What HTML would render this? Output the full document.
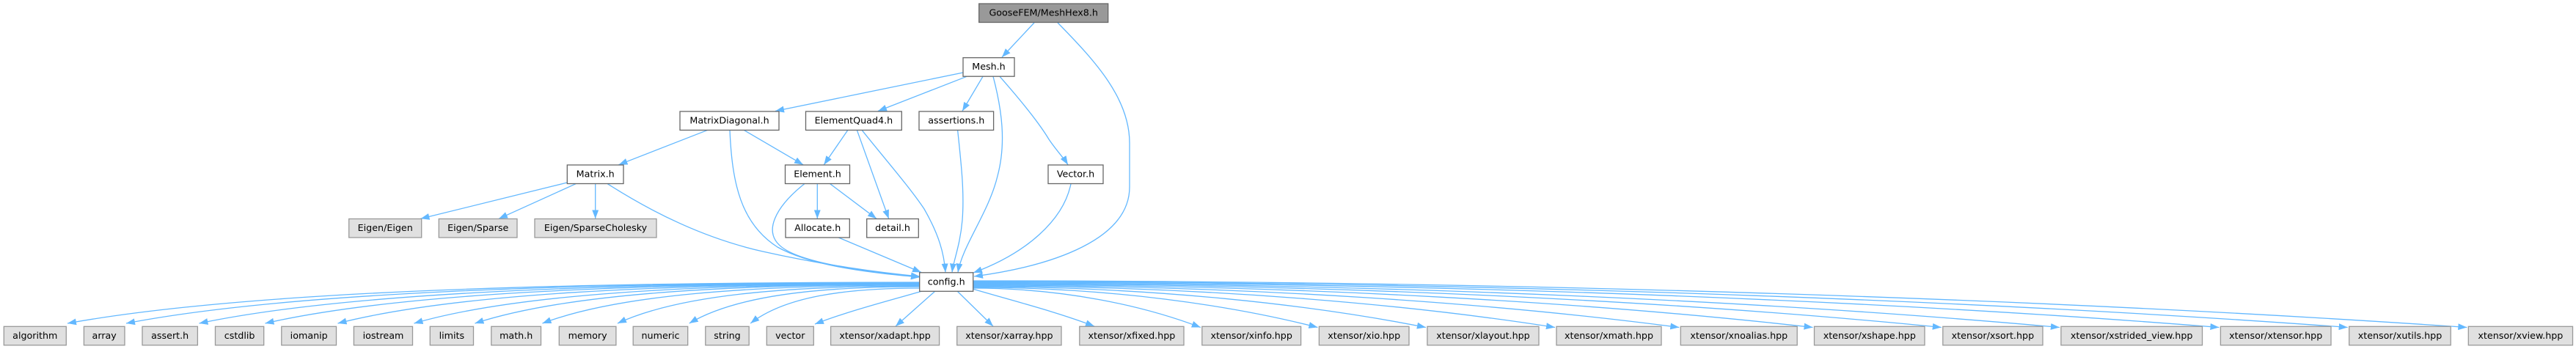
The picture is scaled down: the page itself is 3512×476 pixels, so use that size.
<!DOCTYPE html>
<html>
<head>
<meta charset="utf-8">
<style>
  html,body{margin:0;padding:0;background:#ffffff;}
  svg{display:block;}
  text{font-family:"DejaVu Sans","Liberation Sans",sans-serif;font-size:12.7px;fill:#000;text-anchor:middle;}
  .e{fill:none;stroke:#63b8ff;stroke-width:1.3;marker-end:url(#ah);}
  .n{fill:#ffffff;stroke:#666666;stroke-width:1.3;}
  .g{fill:#e0e0e0;stroke:#999999;stroke-width:1.3;}
  .r{fill:#999999;stroke:#666666;stroke-width:1.3;}
</style>
</head>
<body>
<svg width="3512" height="476" viewBox="0 0 3512 476" xmlns="http://www.w3.org/2000/svg">
<defs>
  <marker id="ah" markerUnits="userSpaceOnUse" markerWidth="12" markerHeight="10" refX="12" refY="5" orient="auto">
    <path d="M0,0.5 L12,5 L0,9.5 z" fill="#63b8ff"/>
  </marker>
</defs>
<rect x="0" y="0" width="3512" height="476" fill="#ffffff"/>

<!-- upper edges -->
<path class="e" d="M1410,31 L1366,78"/>
<path class="e" d="M1442,31 C1495,85 1540,135 1540,195 L1540,255 C1540,325 1440,362 1328,377"/>
<path class="e" d="M1313,99 L1057,151.5"/>
<path class="e" d="M1318,104.3 L1197,151.5"/>
<path class="e" d="M1340,104.3 L1312,151.5"/>
<path class="e" d="M1354,104.3 C1366,150 1372,195 1360,240 C1348,290 1312,335 1306,371.5"/>
<path class="e" d="M1363,104.3 C1390,135 1415,165 1430,190 C1440,205 1450,215 1456,224.7"/>
<path class="e" d="M965,177.3 L843.5,224.7"/>
<path class="e" d="M1014,177.3 L1095,224.7"/>
<path class="e" d="M995,177.3 C998,250 1010,305 1060,337 C1110,365 1200,373 1254,378"/>
<path class="e" d="M1156,177.3 L1123.3,224.7"/>
<path class="e" d="M1168.3,177.3 L1211.7,298.3"/>
<path class="e" d="M1175,177.3 C1205,215 1240,255 1260,285 C1280,320 1287,345 1289,371.5"/>
<path class="e" d="M1305.6,177.3 C1310,220 1315,260 1312,300 C1309,335 1300,355 1298,371.5"/>
<path class="e" d="M773.3,249 L573.5,298.3"/>
<path class="e" d="M785,250.7 L680,298.3"/>
<path class="e" d="M811.7,250.7 L811.7,298.3"/>
<path class="e" d="M828.3,250.7 C890,290 960,325 1040,343 C1120,361 1200,372 1254,377"/>
<path class="e" d="M1114.3,250.7 L1114.3,298.3"/>
<path class="e" d="M1131.7,250.7 L1195,298.3"/>
<path class="e" d="M1096.7,250.7 C1060,280 1035,318 1070,340 C1105,362 1200,372 1254,378"/>
<path class="e" d="M1460,250.7 C1450,300 1400,345 1327,372"/>
<path class="e" d="M1143.3,324 L1256,371.5"/>

<!-- config.h -> left bottom nodes -->
<path class="e" d="M1254,385 C731.1,385 324.4,399 92,441"/>
<path class="e" d="M1254,385.5 C767.1,385.5 388.4,399.4 172,441"/>
<path class="e" d="M1254,386 C811.9,386 468,399.75 271.5,441"/>
<path class="e" d="M1254,386.5 C852.4,386.5 540,400.1 361.5,441"/>
<path class="e" d="M1254,387 C896.9,387 619.2,400.5 460.5,441"/>
<path class="e" d="M1254,387.5 C943.7,387.5 702.4,400.9 564.5,441"/>
<path class="e" d="M1254,388 C981.1,388 768.8,401.25 647.5,441"/>
<path class="e" d="M1254,389 C1022.5,389 842.4,402 739.5,441"/>
<path class="e" d="M1254,390 C1068.6,390 924.4,402.75 842,441"/>
<path class="e" d="M1254,391 C1112.6,391 1002.6,403.5 939.7,441"/>
<path class="e" d="M1254,393 C1150.1,393 1069.4,405 1023.2,441"/>
<path class="e" d="M1258,396.7 C1220,408 1160,423 1111,442"/>

<!-- config.h -> right bottom nodes -->
<path class="e" d="M1275,397 L1221,445"/>
<path class="e" d="M1305,397 L1354,445"/>
<path class="e" d="M1326,394 C1380,410 1440,425 1492,445"/>
<path class="e" d="M1327,393 C1450.9,393 1559.4,417.1 1636.8,446.5"/>
<path class="e" d="M1327,392 C1514.8,392 1679,416.5 1796.4,446.5"/>
<path class="e" d="M1327,391 C1573.8,391 1789.7,416 1943.9,446.5"/>
<path class="e" d="M1327,390 C1644.2,390 1921.8,415.4 2120,446.5"/>
<path class="e" d="M1327,389 C1711.9,389 2048.7,414.9 2289.3,446.5"/>
<path class="e" d="M1327,388 C1784.8,388 2185.4,414.3 2471.5,446.5"/>
<path class="e" d="M1327,387 C1854.9,387 2316.9,413.8 2646.8,446.5"/>
<path class="e" d="M1327,386 C1919.4,386 2437.7,413.2 2807.9,446.5"/>
<path class="e" d="M1327,385 C2006.4,385 2600.8,412.7 3025.4,446.5"/>
<path class="e" d="M1327,384 C2076.5,384 2732.3,412.1 3200.7,446.5"/>
<path class="e" d="M1327,383 C2141.5,383 2854.2,411.6 3363.3,446.5"/>

<!-- nodes -->
<rect class="r" x="1334.7" y="5" width="176" height="25.5"/><text x="1422.7" y="21.5">GooseFEM/MeshHex8.h</text>
<rect class="n" x="1313" y="78.7" width="70" height="25.5"/><text x="1348" y="95.2">Mesh.h</text>
<rect class="n" x="927" y="152" width="135" height="25.5"/><text x="994.5" y="168.5">MatrixDiagonal.h</text>
<rect class="n" x="1098.5" y="152" width="130.8" height="25.5"/><text x="1163.9" y="168.5">ElementQuad4.h</text>
<rect class="n" x="1253" y="152" width="101.6" height="25.5"/><text x="1303.8" y="168.5">assertions.h</text>
<rect class="n" x="773.3" y="225" width="76.7" height="25.5"/><text x="811.7" y="241.5">Matrix.h</text>
<rect class="n" x="1070.5" y="225" width="88" height="25.5"/><text x="1114.5" y="241.5">Element.h</text>
<rect class="n" x="1429" y="225" width="75" height="25.5"/><text x="1466.5" y="241.5">Vector.h</text>
<rect class="g" x="475.7" y="298.5" width="99" height="25.5"/><text x="525.2" y="315">Eigen/Eigen</text>
<rect class="g" x="598.3" y="298.5" width="106.7" height="25.5"/><text x="651.7" y="315">Eigen/Sparse</text>
<rect class="g" x="729" y="298.5" width="166" height="25.5"/><text x="812" y="315">Eigen/SparseCholesky</text>
<rect class="n" x="1071" y="298.5" width="87.3" height="25.5"/><text x="1114.7" y="315">Allocate.h</text>
<rect class="n" x="1181.7" y="298.5" width="70.6" height="25.5"/><text x="1217" y="315">detail.h</text>
<rect class="n" x="1253.7" y="371.8" width="73" height="25.5"/><text x="1290.2" y="388.3">config.h</text>

<rect class="g" x="5.3" y="445.3" width="85" height="25.5"/><text x="47.8" y="461.8">algorithm</text>
<rect class="g" x="114.4" y="445.3" width="55.6" height="25.5"/><text x="142.2" y="461.8">array</text>
<rect class="g" x="194" y="445.3" width="75.4" height="25.5"/><text x="231.7" y="461.8">assert.h</text>
<rect class="g" x="293.5" y="445.3" width="66.2" height="25.5"/><text x="326.6" y="461.8">cstdlib</text>
<rect class="g" x="383.8" y="445.3" width="74.7" height="25.5"/><text x="421.2" y="461.8">iomanip</text>
<rect class="g" x="482.4" y="445.3" width="80.1" height="25.5"/><text x="522.5" y="461.8">iostream</text>
<rect class="g" x="586.3" y="445.3" width="59.2" height="25.5"/><text x="615.9" y="461.8">limits</text>
<rect class="g" x="669.8" y="445.3" width="67.7" height="25.5"/><text x="703.7" y="461.8">math.h</text>
<rect class="g" x="762.3" y="445.3" width="77.6" height="25.5"/><text x="801.1" y="461.8">memory</text>
<rect class="g" x="863.2" y="445.3" width="74.5" height="25.5"/><text x="900.5" y="461.8">numeric</text>
<rect class="g" x="961.8" y="445.3" width="59.4" height="25.5"/><text x="991.5" y="461.8">string</text>
<rect class="g" x="1045.3" y="445.3" width="64" height="25.5"/><text x="1077.3" y="461.8">vector</text>
<rect class="g" x="1132.6" y="445.3" width="148" height="25.5"/><text x="1206.6" y="461.8">xtensor/xadapt.hpp</text>
<rect class="g" x="1304.7" y="445.3" width="142.3" height="25.5"/><text x="1375.9" y="461.8">xtensor/xarray.hpp</text>
<rect class="g" x="1471.8" y="445.3" width="142.2" height="25.5"/><text x="1542.9" y="461.8">xtensor/xfixed.hpp</text>
<rect class="g" x="1638.8" y="445.3" width="134.8" height="25.5"/><text x="1706.2" y="461.8">xtensor/xinfo.hpp</text>
<rect class="g" x="1798.4" y="445.3" width="122.6" height="25.5"/><text x="1859.7" y="461.8">xtensor/xio.hpp</text>
<rect class="g" x="1945.9" y="445.3" width="152.1" height="25.5"/><text x="2022" y="461.8">xtensor/xlayout.hpp</text>
<rect class="g" x="2122" y="445.3" width="143" height="25.5"/><text x="2193.5" y="461.8">xtensor/xmath.hpp</text>
<rect class="g" x="2291.3" y="445.3" width="158.9" height="25.5"/><text x="2370.8" y="461.8">xtensor/xnoalias.hpp</text>
<rect class="g" x="2473.5" y="445.3" width="150.5" height="25.5"/><text x="2548.8" y="461.8">xtensor/xshape.hpp</text>
<rect class="g" x="2648.8" y="445.3" width="136.2" height="25.5"/><text x="2716.9" y="461.8">xtensor/xsort.hpp</text>
<rect class="g" x="2809.9" y="445.3" width="192.6" height="25.5"/><text x="2906.2" y="461.8">xtensor/xstrided_view.hpp</text>
<rect class="g" x="3027.4" y="445.3" width="150.6" height="25.5"/><text x="3102.7" y="461.8">xtensor/xtensor.hpp</text>
<rect class="g" x="3202.7" y="445.3" width="138.5" height="25.5"/><text x="3272" y="461.8">xtensor/xutils.hpp</text>
<rect class="g" x="3365.3" y="445.3" width="142.2" height="25.5"/><text x="3436.4" y="461.8">xtensor/xview.hpp</text>
</svg>
</body>
</html>
